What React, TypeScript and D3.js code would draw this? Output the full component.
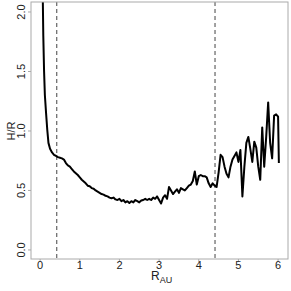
import React from "react";
import * as d3 from "d3";

// radius (AU) and H/R profile
const rAu = [
  0.06, 0.07, 0.08, 0.1, 0.12, 0.15, 0.18, 0.21, 0.25, 0.3, 0.35, 0.4, 0.45, 0.5, 0.55, 0.6,
  0.65, 0.7, 0.75, 0.8, 0.85, 0.9, 0.95, 1.0, 1.05, 1.1, 1.15, 1.2, 1.25, 1.3, 1.35, 1.4,
  1.45, 1.5, 1.55, 1.6, 1.65, 1.7, 1.75, 1.8, 1.85, 1.9, 1.95, 2.0, 2.05, 2.1, 2.15, 2.2,
  2.25, 2.3, 2.35, 2.4, 2.45, 2.5, 2.55, 2.6, 2.65, 2.7, 2.75, 2.8, 2.85, 2.9, 2.95, 3.0,
  3.05, 3.1, 3.15, 3.2, 3.25, 3.3, 3.35, 3.4, 3.45, 3.5, 3.55, 3.6, 3.65, 3.7, 3.75, 3.8,
  3.85, 3.9, 3.95, 4.0, 4.05, 4.1, 4.15, 4.2, 4.25, 4.3, 4.35, 4.4, 4.45, 4.5, 4.55, 4.6,
  4.65, 4.7, 4.75, 4.8, 4.85, 4.9, 4.95, 5.0, 5.05, 5.1, 5.15, 5.2, 5.25, 5.3, 5.35, 5.4,
  5.45, 5.5, 5.55, 5.6, 5.65, 5.7, 5.75, 5.8, 5.85, 5.9, 5.95, 6.0, 6.02,
];
const hOverR = [
  2.3, 2.05, 1.8, 1.5, 1.3, 1.15, 1.01, 0.9, 0.85, 0.82, 0.8, 0.79, 0.78, 0.775, 0.77, 0.76,
  0.73, 0.71, 0.7, 0.68, 0.66, 0.645, 0.63, 0.61, 0.59, 0.575, 0.56, 0.54, 0.535, 0.52, 0.515, 0.5,
  0.49, 0.48, 0.47, 0.465, 0.455, 0.45, 0.44, 0.435, 0.44, 0.425, 0.42, 0.43, 0.41, 0.42, 0.4, 0.41,
  0.395, 0.41, 0.4, 0.42, 0.41, 0.4, 0.415, 0.42, 0.43, 0.42, 0.43, 0.42, 0.44, 0.43, 0.45, 0.42,
  0.39, 0.44, 0.46, 0.43, 0.53, 0.5, 0.47, 0.49, 0.51, 0.48, 0.52, 0.51, 0.5, 0.52, 0.54, 0.55,
  0.58, 0.66, 0.55, 0.62, 0.63, 0.62, 0.62, 0.61, 0.56, 0.53, 0.56, 0.54, 0.53, 0.65, 0.8, 0.78,
  0.7, 0.64, 0.61, 0.7, 0.76, 0.79, 0.82, 0.74, 0.84, 0.45, 0.7, 0.9, 0.95, 0.85, 0.74, 0.91,
  0.86, 0.7, 0.59, 1.03, 0.7, 0.95, 1.24, 0.9, 0.77, 1.13, 1.14, 1.12, 0.73,
];
const markers = [0.42, 4.41];
const xTicks = [0, 1, 2, 3, 4, 5, 6];
const yTicks = [0, 0.5, 1, 1.5, 2];

export default function App() {
  const left = 31, right = 288, top = 2, bottom = 259;
  const x = d3.scaleLinear().domain([-0.23, 6.25]).range([left, right]);
  const y = d3.scaleLinear().domain([-0.076, 2.084]).range([bottom, top]);
  const pts = rAu.map((r, i) => [r, hOverR[i]] as [number, number]);
  const line = d3.line<[number, number]>().x(d => x(d[0])).y(d => y(d[1]));
  const font = "Liberation Sans, Arial, sans-serif";

  return (
    <svg width={291} height={291} style={{ position: "absolute", left: 0, top: 0, background: "#fff" }}>
      <defs>
        <clipPath id="plot">
          <rect x={left} y={top} width={right - left} height={bottom - top} />
        </clipPath>
      </defs>
      {markers.map(m => (
        <line key={m} x1={x(m)} x2={x(m)} y1={top} y2={bottom}
          stroke="#444" strokeWidth={1} strokeDasharray="4,3" />
      ))}
      <path d={line(pts) ?? ""} fill="none" stroke="#000" strokeWidth={2}
        strokeLinejoin="round" clipPath="url(#plot)" />
      <rect x={left} y={top} width={right - left} height={bottom - top}
        fill="none" stroke="#aaa" strokeWidth={1} />
      {xTicks.map(t => (
        <g key={t}>
          <line x1={x(t)} x2={x(t)} y1={bottom} y2={bottom + 3} stroke="#aaa" />
          <text x={x(t)} y={269} textAnchor="middle" fontSize={11} fontFamily={font} fill="#222">{t}</text>
        </g>
      ))}
      {yTicks.map(t => (
        <g key={t}>
          <line x1={left - 3} x2={left} y1={y(t)} y2={y(t)} stroke="#aaa" />
          <text transform={`translate(25,${y(t)}) rotate(-90)`} textAnchor="middle"
            fontSize={11} fontFamily={font} fill="#222">{t.toFixed(1)}</text>
        </g>
      ))}
      <text transform="translate(15,131) rotate(-90)" textAnchor="middle" fontSize={11}
        fontFamily={font} fill="#222">H/R</text>
      <text x={151} y={280} fontSize={12} fontFamily={font} fill="#222">
        R<tspan fontSize={9} dy={3}>AU</tspan>
      </text>
    </svg>
  );
}
